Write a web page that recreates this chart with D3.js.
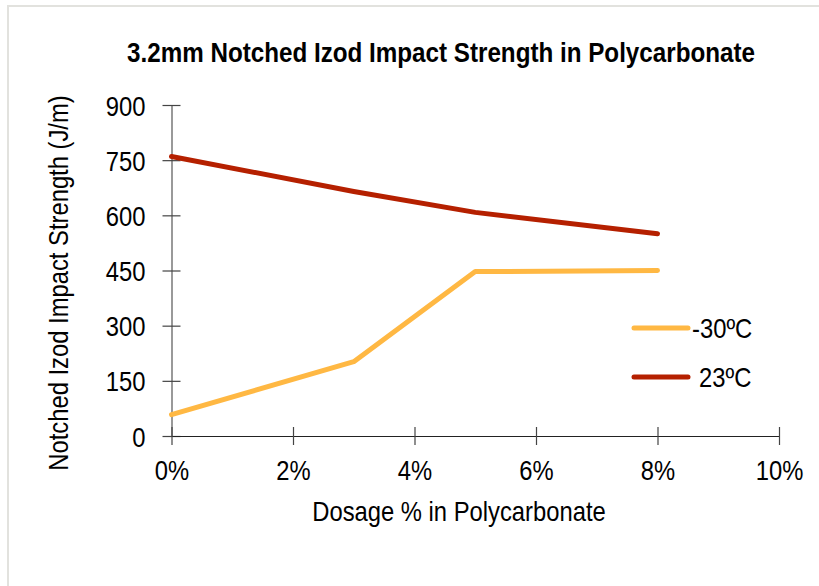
<!DOCTYPE html>
<html>
<head>
<meta charset="utf-8">
<script src="https://cdn.jsdelivr.net/npm/d3@7"></script>
<style>
  body { margin: 0; background: #fff; }
  svg { display: block; }
  text { font-family: "Liberation Sans Narrow", "Arial Narrow", "Liberation Sans", sans-serif; fill: #000; }
</style>
</head>
<body>
<svg id="root" width="819" height="586"></svg>
<script>
// chart values
const dosage = [0, 3, 5, 8];
const coldSeries = [58, 202, 447, 450];   // -30ºC
const roomSeries = [760, 665, 608, 550];  // 23ºC
const seriesNames = ['-30ºC', '23ºC'];
const seriesColors = ['#FFB843', '#B52000'];
const yTicks = [0, 150, 300, 450, 600, 750, 900];
const xTicks = [0, 2, 4, 6, 8, 10];

// no narrow font installed, so squeeze the regular one horizontally
const squeeze = 0.85;
const fontSize = 28;

const svg = d3.select('#root');

// frame (only top/left edges fall inside the picture)
svg.append('rect')
  .attr('x', 8).attr('y', 6)
  .attr('width', 900).attr('height', 700)
  .attr('fill', 'none')
  .attr('stroke', '#E2E2DE')
  .attr('stroke-width', 2);

const x = d3.scaleLinear().domain([0, 10]).range([171.5, 779]);
const y = d3.scaleLinear().domain([0, 900]).range([436, 105]);

const label = (px, py, str, opts = {}) =>
  svg.append('text')
    .attr('transform', `translate(${px},${py})${opts.rotate ? ' rotate(-90)' : ''} scale(${opts.sx || squeeze},1)`)
    .attr('text-anchor', opts.anchor || 'middle')
    .attr('font-size', opts.size || fontSize)
    .attr('font-weight', opts.weight || 'normal')
    .text(str);

// title
label(441, 62, '3.2mm Notched Izod Impact Strength in Polycarbonate',
  { size: 28, weight: 'bold', sx: 0.865 });

// y axis
const yAxis = svg.append('g')
  .attr('transform', `translate(${x(0)},0)`)
  .call(d3.axisLeft(y).tickValues(yTicks).tickSize(0).tickPadding(0));
yAxis.select('.domain').attr('stroke', '#555').attr('stroke-width', 1.2);
yAxis.selectAll('.tick text')
  .attr('font-size', fontSize)
  .attr('x', -26 / squeeze)
  .attr('dy', '0.36em')
  .attr('transform', `scale(${squeeze},1)`);
yAxis.selectAll('.tick').append('line')
  .attr('x1', -9).attr('x2', 9)
  .attr('stroke', '#444').attr('stroke-width', 1.2);

// x axis
const xAxis = svg.append('g')
  .attr('transform', `translate(0,${y(0)})`)
  .call(d3.axisBottom(x).tickValues(xTicks).tickSize(0).tickPadding(34)
    .tickFormat(d => d + '%'));
xAxis.select('.domain').attr('stroke', '#222').attr('stroke-width', 1.2);
xAxis.selectAll('.tick text')
  .attr('font-size', fontSize)
  .attr('dy', '0.36em')
  .attr('transform', `scale(${squeeze},1)`);
xAxis.selectAll('.tick').append('line')
  .attr('y1', -9).attr('y2', 9)
  .attr('stroke', '#444').attr('stroke-width', 1.2);

// axis titles
label(68, 283, 'Notched Izod Impact Strength (J/m)', { rotate: true });
label(459, 521, 'Dosage % in Polycarbonate');

// lines
const line = d3.line()
  .x((d, i) => x(dosage[i]))
  .y(d => y(d));

[coldSeries, roomSeries].forEach((values, i) => {
  svg.append('path')
    .datum(values)
    .attr('d', line)
    .attr('fill', 'none')
    .attr('stroke', seriesColors[i])
    .attr('stroke-width', 5)
    .attr('stroke-linejoin', 'round')
    .attr('stroke-linecap', 'round');
});

// legend
const legendX = 634;
seriesNames.forEach((name, i) => {
  const ly = 328 + i * 49;
  svg.append('line')
    .attr('x1', legendX).attr('x2', legendX + 54)
    .attr('y1', ly).attr('y2', ly)
    .attr('stroke', seriesColors[i])
    .attr('stroke-width', 5)
    .attr('stroke-linecap', 'round');
  label(legendX + (i === 0 ? 58 : 65), ly + 10, name, { anchor: 'start' });
});
</script>
</body>
</html>
